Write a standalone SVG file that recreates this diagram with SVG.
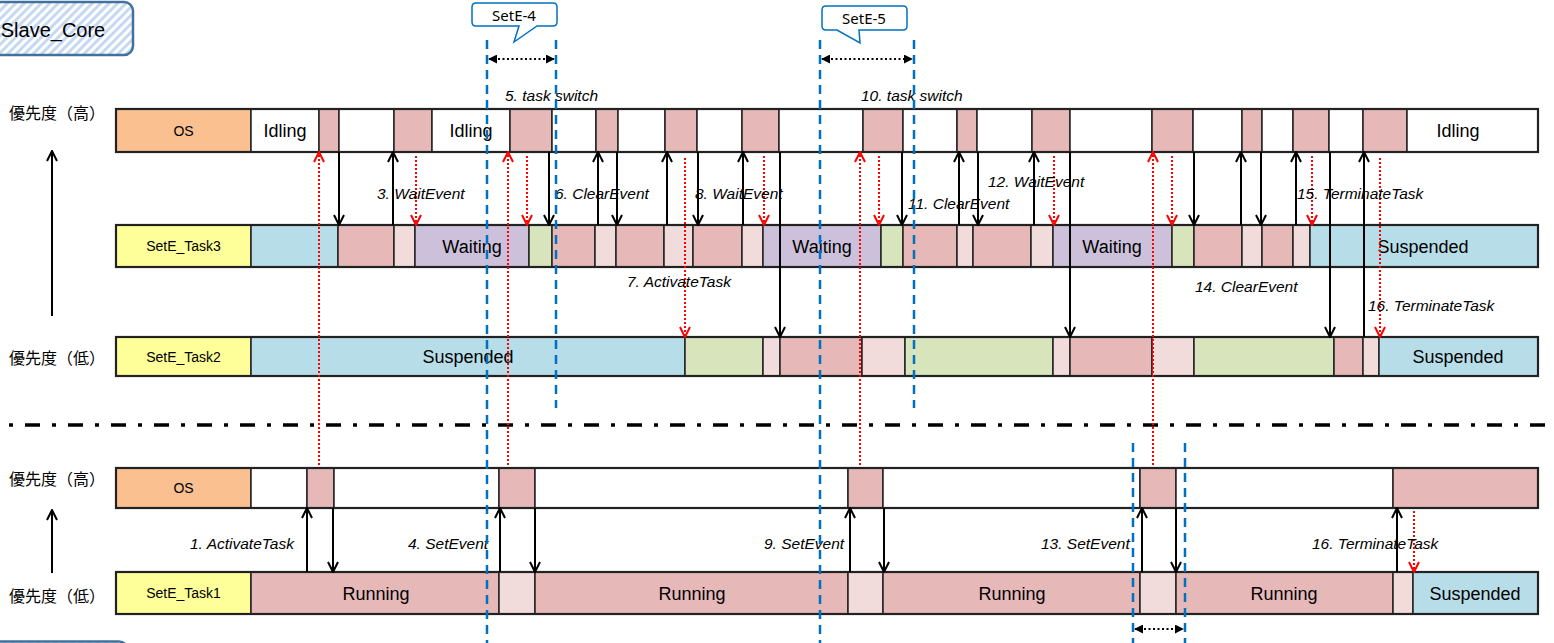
<svg xmlns="http://www.w3.org/2000/svg" width="1554" height="643" viewBox="0 0 1554 643">
<style>
.s{stroke:#222;stroke-width:1.5}
.os{fill:#FAC090}.yl{fill:#FFFF99}.wh{fill:#FFFFFF}.pk{fill:#E6B8B7}.lp{fill:#F2DCDB}.bl{fill:#B7DEE8}.pu{fill:#CCC0DA}.gr{fill:#D8E4BC}
.row{fill:none;stroke:#222;stroke-width:2.2}
text{font-family:"Liberation Sans",Arial,sans-serif;fill:#000;dominant-baseline:central}
.lb{font-size:14px;text-anchor:middle}
.big{font-size:18px;text-anchor:middle}
.it{font-size:15.5px;font-style:italic}
.cjk{font-family:"Noto Sans CJK JP","Noto Sans CJK SC",sans-serif;font-size:16px}
.blk{stroke:#000;stroke-width:2;fill:none;marker-end:url(#ab)}
.red{stroke:#FF0000;stroke-width:2;stroke-dasharray:2 2;fill:none;marker-end:url(#ar)}
.bd{stroke:#0070C0;stroke-width:2.5;stroke-dasharray:9 6;fill:none}
.dd{stroke:#000;stroke-width:2;stroke-dasharray:2 2.5;fill:none;marker-start:url(#tri);marker-end:url(#tri)}
.call{fill:#fff;stroke:#0070C0;stroke-width:1.5}
.ct{font-family:"Noto Sans","Liberation Sans",sans-serif;font-size:15px;text-anchor:middle}
.hb{fill:url(#hatch);stroke:#41719C;stroke-width:2.5}
</style>
<defs>
<pattern id="hatch" width="6" height="6" patternUnits="userSpaceOnUse" patternTransform="rotate(45)">
<rect width="6" height="6" fill="#FFFFFF"/>
<rect width="3" height="6" fill="#C6D9F1"/>
</pattern>
<marker id="ab" viewBox="0 0 12 12" refX="11" refY="6" markerWidth="12" markerHeight="12" markerUnits="userSpaceOnUse" orient="auto">
<path d="M1,1 L11,6 L1,11" fill="none" stroke="#000" stroke-width="2"/>
</marker>
<marker id="ar" viewBox="0 0 12 12" refX="11" refY="6" markerWidth="12" markerHeight="12" markerUnits="userSpaceOnUse" orient="auto">
<path d="M1,1 L11,6 L1,11" fill="none" stroke="#FF0000" stroke-width="2"/>
</marker>
<marker id="tri" viewBox="0 0 10 10" refX="9" refY="5" markerWidth="9" markerHeight="9" markerUnits="userSpaceOnUse" orient="auto-start-reverse">
<path d="M0,0 L10,5 L0,10z" fill="#000"/>
</marker>
</defs>
<rect width="1554" height="643" fill="#FFFFFF"/>

<g id="slave-core">
<rect class="hb" x="-12" y="2" width="145" height="53" rx="9"/>
<text x="53" y="30" style="font-size:20px;text-anchor:middle">Slave_Core</text>
</g>
<g id="bottom-box">
<rect class="hb" x="-12" y="641.5" width="140" height="30" rx="9"/>
</g>

<g id="priority-axis">
<text class="cjk" x="9" y="112">優先度（高）</text>
<text class="cjk" x="9" y="357">優先度（低）</text>
<text class="cjk" x="9" y="478">優先度（高）</text>
<text class="cjk" x="9" y="595">優先度（低）</text>
<line class="blk" x1="52" y1="316" x2="52" y2="151"/>
<line class="blk" x1="52" y1="573" x2="52" y2="510"/>
</g>

<g id="row-os-top">
<rect class="s os" x="116" y="109" width="135" height="43"/>
<text class="lb" x="183.5" y="130.5">OS</text>
<rect class="s wh" x="251" y="109" width="68" height="43"/>
<rect class="s pk" x="319" y="109" width="20" height="43"/>
<rect class="s wh" x="339" y="109" width="55" height="43"/>
<rect class="s pk" x="394" y="109" width="38" height="43"/>
<rect class="s wh" x="432" y="109" width="78" height="43"/>
<rect class="s pk" x="510" y="109" width="42" height="43"/>
<rect class="s wh" x="552" y="109" width="44" height="43"/>
<rect class="s pk" x="596" y="109" width="22" height="43"/>
<rect class="s wh" x="618" y="109" width="47" height="43"/>
<rect class="s pk" x="665" y="109" width="32" height="43"/>
<rect class="s wh" x="697" y="109" width="45" height="43"/>
<rect class="s pk" x="742" y="109" width="37" height="43"/>
<rect class="s wh" x="779" y="109" width="84" height="43"/>
<rect class="s pk" x="863" y="109" width="40" height="43"/>
<rect class="s wh" x="903" y="109" width="54" height="43"/>
<rect class="s pk" x="957" y="109" width="20" height="43"/>
<rect class="s wh" x="977" y="109" width="55" height="43"/>
<rect class="s pk" x="1032" y="109" width="38" height="43"/>
<rect class="s wh" x="1070" y="109" width="82" height="43"/>
<rect class="s pk" x="1152" y="109" width="41" height="43"/>
<rect class="s wh" x="1193" y="109" width="49" height="43"/>
<rect class="s pk" x="1242" y="109" width="20" height="43"/>
<rect class="s wh" x="1262" y="109" width="31" height="43"/>
<rect class="s pk" x="1293" y="109" width="36" height="43"/>
<rect class="s wh" x="1329" y="109" width="34" height="43"/>
<rect class="s pk" x="1363" y="109" width="44" height="43"/>
<rect class="s wh" x="1407" y="109" width="131" height="43"/>
<rect class="row" x="116" y="109" width="1422" height="43"/>
<text class="big" x="285" y="131">Idling</text>
<text class="big" x="471" y="131">Idling</text>
<text class="big" x="1458" y="131">Idling</text>
</g>

<g id="row-task3">
<rect class="s yl" x="116" y="225" width="135" height="42"/>
<text class="lb" x="183.5" y="246">SetE_Task3</text>
<rect class="s bl" x="251" y="225" width="87" height="42"/>
<rect class="s pk" x="338" y="225" width="56" height="42"/>
<rect class="s lp" x="394" y="225" width="21" height="42"/>
<rect class="s pu" x="415" y="225" width="114" height="42"/>
<rect class="s gr" x="529" y="225" width="23" height="42"/>
<rect class="s pk" x="552" y="225" width="43" height="42"/>
<rect class="s lp" x="595" y="225" width="21" height="42"/>
<rect class="s pk" x="616" y="225" width="48" height="42"/>
<rect class="s lp" x="664" y="225" width="29" height="42"/>
<rect class="s pk" x="693" y="225" width="49" height="42"/>
<rect class="s lp" x="742" y="225" width="21" height="42"/>
<rect class="s pu" x="763" y="225" width="118" height="42"/>
<rect class="s gr" x="881" y="225" width="22" height="42"/>
<rect class="s pk" x="903" y="225" width="54" height="42"/>
<rect class="s lp" x="957" y="225" width="16" height="42"/>
<rect class="s pk" x="973" y="225" width="58" height="42"/>
<rect class="s lp" x="1031" y="225" width="22" height="42"/>
<rect class="s pu" x="1053" y="225" width="119" height="42"/>
<rect class="s gr" x="1172" y="225" width="22" height="42"/>
<rect class="s pk" x="1194" y="225" width="48" height="42"/>
<rect class="s lp" x="1242" y="225" width="20" height="42"/>
<rect class="s pk" x="1262" y="225" width="31" height="42"/>
<rect class="s lp" x="1293" y="225" width="17" height="42"/>
<rect class="s bl" x="1310" y="225" width="228" height="42"/>
<rect class="row" x="116" y="225" width="1422" height="42"/>
<text class="big" x="472" y="246.5">Waiting</text>
<text class="big" x="822" y="246.5">Waiting</text>
<text class="big" x="1112" y="246.5">Waiting</text>
<text class="big" x="1423" y="246.5">Suspended</text>
</g>

<g id="row-task2">
<rect class="s yl" x="116" y="337" width="135" height="39"/>
<text class="lb" x="183.5" y="356.5">SetE_Task2</text>
<rect class="s bl" x="251" y="337" width="434" height="39"/>
<rect class="s gr" x="685" y="337" width="78" height="39"/>
<rect class="s lp" x="763" y="337" width="17" height="39"/>
<rect class="s pk" x="780" y="337" width="82" height="39"/>
<rect class="s lp" x="862" y="337" width="43" height="39"/>
<rect class="s gr" x="905" y="337" width="148" height="39"/>
<rect class="s lp" x="1053" y="337" width="17" height="39"/>
<rect class="s pk" x="1070" y="337" width="82" height="39"/>
<rect class="s lp" x="1152" y="337" width="42" height="39"/>
<rect class="s gr" x="1194" y="337" width="140" height="39"/>
<rect class="s pk" x="1334" y="337" width="29" height="39"/>
<rect class="s lp" x="1363" y="337" width="16" height="39"/>
<rect class="s bl" x="1379" y="337" width="159" height="39"/>
<rect class="row" x="116" y="337" width="1422" height="39"/>
<text class="big" x="468" y="357">Suspended</text>
<text class="big" x="1458" y="357">Suspended</text>
</g>

<g id="separator">
<line x1="9" y1="425" x2="1554" y2="425" stroke="#000" stroke-width="3.5" stroke-dasharray="4 12 15 12"/>
</g>

<g id="row-os-bottom">
<rect class="s os" x="116" y="468" width="135" height="40"/>
<text class="lb" x="183.5" y="488">OS</text>
<rect class="s wh" x="251" y="468" width="56" height="40"/>
<rect class="s pk" x="307" y="468" width="27" height="40"/>
<rect class="s wh" x="334" y="468" width="165" height="40"/>
<rect class="s pk" x="499" y="468" width="36" height="40"/>
<rect class="s wh" x="535" y="468" width="313" height="40"/>
<rect class="s pk" x="848" y="468" width="35" height="40"/>
<rect class="s wh" x="883" y="468" width="257" height="40"/>
<rect class="s pk" x="1140" y="468" width="36" height="40"/>
<rect class="s wh" x="1176" y="468" width="217" height="40"/>
<rect class="s pk" x="1393" y="468" width="145" height="40"/>
<rect class="row" x="116" y="468" width="1422" height="40"/>
</g>

<g id="row-task1">
<rect class="s yl" x="116" y="572" width="135" height="42"/>
<text class="lb" x="183.5" y="593">SetE_Task1</text>
<rect class="s pk" x="251" y="572" width="248" height="42"/>
<rect class="s lp" x="499" y="572" width="36" height="42"/>
<rect class="s pk" x="535" y="572" width="313" height="42"/>
<rect class="s lp" x="848" y="572" width="35" height="42"/>
<rect class="s pk" x="883" y="572" width="257" height="42"/>
<rect class="s lp" x="1140" y="572" width="36" height="42"/>
<rect class="s pk" x="1176" y="572" width="217" height="42"/>
<rect class="s lp" x="1393" y="572" width="20" height="42"/>
<rect class="s bl" x="1413" y="572" width="125" height="42"/>
<rect class="row" x="116" y="572" width="1422" height="42"/>
<text class="big" x="376" y="593.5">Running</text>
<text class="big" x="692" y="593.5">Running</text>
<text class="big" x="1012" y="593.5">Running</text>
<text class="big" x="1284" y="593.5">Running</text>
<text class="big" x="1475" y="593.5">Suspended</text>
</g>

<g id="connectors">
<line class="blk" x1="339" y1="152" x2="339" y2="225"/>
<line class="blk" x1="549" y1="152" x2="549" y2="225"/>
<line class="blk" x1="617" y1="152" x2="617" y2="225"/>
<line class="blk" x1="698" y1="152" x2="698" y2="225"/>
<line class="blk" x1="902" y1="152" x2="902" y2="225"/>
<line class="blk" x1="978" y1="152" x2="978" y2="225"/>
<line class="blk" x1="1194" y1="152" x2="1194" y2="225"/>
<line class="blk" x1="1261" y1="152" x2="1261" y2="225"/>
<line class="blk" x1="393" y1="225" x2="393" y2="152"/>
<line class="blk" x1="598" y1="225" x2="598" y2="152"/>
<line class="blk" x1="667" y1="225" x2="667" y2="152"/>
<line class="blk" x1="743" y1="225" x2="743" y2="152"/>
<line class="blk" x1="959" y1="225" x2="959" y2="152"/>
<line class="blk" x1="1034" y1="225" x2="1034" y2="152"/>
<line class="blk" x1="1241" y1="225" x2="1241" y2="152"/>
<line class="blk" x1="1296" y1="225" x2="1296" y2="152"/>
<line class="blk" x1="780" y1="152" x2="780" y2="337"/>
<line class="blk" x1="1070" y1="152" x2="1070" y2="337"/>
<line class="blk" x1="1330" y1="152" x2="1330" y2="337"/>
<line class="blk" x1="1364" y1="337" x2="1364" y2="152"/>
<line class="red" x1="416" y1="156" x2="416" y2="225"/>
<line class="red" x1="527" y1="156" x2="527" y2="225"/>
<line class="red" x1="764" y1="156" x2="764" y2="225"/>
<line class="red" x1="879" y1="156" x2="879" y2="225"/>
<line class="red" x1="1054" y1="156" x2="1054" y2="225"/>
<line class="red" x1="1172" y1="156" x2="1172" y2="225"/>
<line class="red" x1="1312" y1="156" x2="1312" y2="225"/>
<line class="red" x1="685" y1="158" x2="685" y2="337"/>
<line class="red" x1="1380" y1="158" x2="1380" y2="337"/>
<line class="red" x1="319" y1="465" x2="319" y2="152"/>
<line class="red" x1="508" y1="465" x2="508" y2="152"/>
<line class="red" x1="860" y1="465" x2="860" y2="152"/>
<line class="red" x1="1153" y1="465" x2="1153" y2="152"/>
<line class="blk" x1="307" y1="572" x2="307" y2="508"/>
<line class="blk" x1="500" y1="572" x2="500" y2="508"/>
<line class="blk" x1="850" y1="572" x2="850" y2="508"/>
<line class="blk" x1="1142" y1="572" x2="1142" y2="508"/>
<line class="blk" x1="1397" y1="572" x2="1397" y2="508"/>
<line class="blk" x1="333" y1="508" x2="333" y2="572"/>
<line class="blk" x1="535" y1="508" x2="535" y2="572"/>
<line class="blk" x1="884" y1="508" x2="884" y2="572"/>
<line class="blk" x1="1176" y1="508" x2="1176" y2="572"/>
<line class="red" x1="1414" y1="511" x2="1414" y2="572"/>
</g>

<g id="connector-labels">
<text class="it" x="505" y="95">5. task switch</text>
<text class="it" x="861" y="95">10. task switch</text>
<text class="it" x="377" y="193">3. WaitEvent</text>
<text class="it" x="555" y="193">6. ClearEvent</text>
<text class="it" x="695" y="193">8. WaitEvent</text>
<text class="it" x="908" y="203">11. ClearEvent</text>
<text class="it" x="988" y="181">12. WaitEvent</text>
<text class="it" x="1297" y="193">15. TerminateTask</text>
<text class="it" x="627" y="281.5">7. ActivateTask</text>
<text class="it" x="1195" y="286">14. ClearEvent</text>
<text class="it" x="1368" y="305.5">16. TerminateTask</text>
<text class="it" x="190" y="543">1. ActivateTask</text>
<text class="it" x="408" y="543">4. SetEvent</text>
<text class="it" x="764" y="543">9. SetEvent</text>
<text class="it" x="1041" y="543">13. SetEvent</text>
<text class="it" x="1312" y="543">16. TerminateTask</text>
</g>

<g id="marker-lines">
<line class="bd" x1="487" y1="40" x2="487" y2="643"/>
<line class="bd" x1="556" y1="40" x2="556" y2="408"/>
<line class="bd" x1="820" y1="40" x2="820" y2="643"/>
<line class="bd" x1="914" y1="40" x2="914" y2="408"/>
<line class="bd" x1="1133" y1="443" x2="1133" y2="643"/>
<line class="bd" x1="1185" y1="443" x2="1185" y2="643"/>
<line class="dd" x1="489" y1="59" x2="554" y2="59"/>
<line class="dd" x1="822" y1="59" x2="912" y2="59"/>
<line class="dd" x1="1135" y1="629" x2="1183" y2="629"/>
</g>

<g id="callout-sete4">
<path class="call" d="M476,3 H553 Q557,3 557,7 V22 Q557,26 553,26 H537 L514,42 L519,26 H476 Q472,26 472,22 V7 Q472,3 476,3 Z"/>
<text class="ct" x="514" y="15">SetE-4</text>
</g>
<g id="callout-sete5">
<path class="call" d="M826,6 H903 Q907,6 907,10 V26 Q907,30 903,30 H859 L860,43 L837,30 H826 Q822,30 822,26 V10 Q822,6 826,6 Z"/>
<text class="ct" x="864" y="18">SetE-5</text>
</g>
</svg>
